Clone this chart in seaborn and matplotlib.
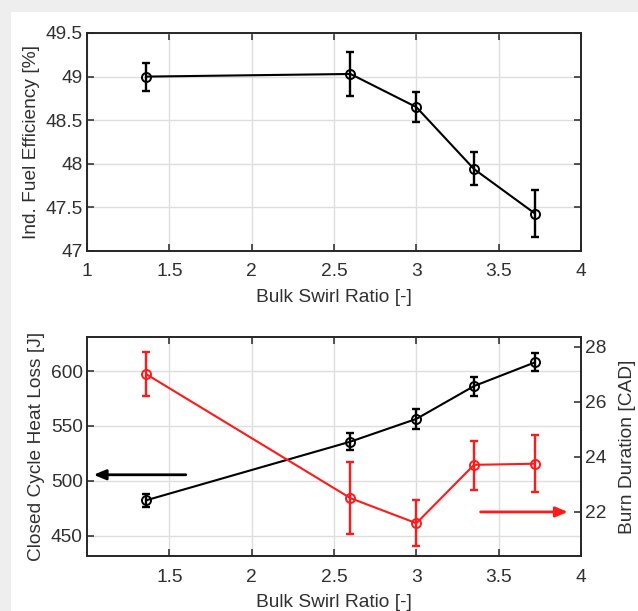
import matplotlib
matplotlib.use("Agg")
import matplotlib.pyplot as plt
from matplotlib.patches import Rectangle
import numpy as np
import seaborn as sns

# data
swirl = [1.36, 2.6, 3.0, 3.35, 3.72]
efficiency = [49.0, 49.03, 48.65, 47.94, 47.43]
efficiency_lo = [48.83, 48.78, 48.48, 47.76, 47.16]
efficiency_hi = [49.16, 49.28, 48.82, 48.13, 47.70]
heat_loss = [482.3, 535.7, 556.4, 586.3, 607.9]
heat_loss_lo = [476.2, 527.7, 547.3, 577.4, 600.3]
heat_loss_hi = [488.1, 543.9, 565.2, 594.8, 616.2]
burn = [27.0, 22.5, 21.59, 23.71, 23.75]
burn_lo = [26.22, 21.19, 20.77, 22.81, 22.71]
burn_hi = [27.8, 23.82, 22.45, 24.58, 24.79]

sns.set_theme(style="white")
plt.rcParams['font.family'] = ['Liberation Sans', 'DejaVu Sans']
fontsize = 13.8
plt.rcParams['font.size'] = fontsize
spine_col = '#262626'
text_col = '#303030'
grid_col = '#dedede'


def style_axes(ax):
    for s in ax.spines.values():
        s.set_color(spine_col)
        s.set_linewidth(1.4)
    ax.tick_params(direction='in', length=5, width=1.1, color=spine_col,
                   labelsize=fontsize, labelcolor=text_col, pad=3)
    ax.tick_params(axis='x', pad=9)
    ax.grid(True, color=grid_col, lw=1.0)
    ax.set_axisbelow(True)


def draw_series(ax, y, lo, hi, color):
    y = np.array(y)
    err = [y - np.array(lo), np.array(hi) - y]
    ax.errorbar(swirl, y, yerr=err, fmt='none', ecolor=color, elinewidth=1.7,
                capsize=3, capthick=1.7, zorder=3)
    sns.lineplot(x=swirl, y=y, ax=ax, color=color, lw=1.5, marker='o',
                 markersize=6.5, markerfacecolor='none', markeredgecolor=color,
                 markeredgewidth=1.4, zorder=4)


fig = plt.figure(figsize=(6.38, 6.11), dpi=100)
fig.patch.set_facecolor('#eeeeee')
fig.patches.append(Rectangle((11 / 638, 0), 1, 1 - 12 / 611, transform=fig.transFigure,
                             facecolor='white', edgecolor='none', zorder=-10))

# top panel
ax1 = fig.add_axes([0.1364, 0.5892, 0.7743, 0.3568])
style_axes(ax1)
draw_series(ax1, efficiency, efficiency_lo, efficiency_hi, 'black')
ax1.set_xlim(1, 4)
ax1.set_ylim(47, 49.5)
ax1.set_xticks([1, 1.5, 2, 2.5, 3, 3.5, 4])
ax1.set_xticklabels(['1', '1.5', '2', '2.5', '3', '3.5', '4'])
ax1.set_yticks([47, 47.5, 48, 48.5, 49, 49.5])
ax1.set_yticklabels(['47', '47.5', '48', '48.5', '49', '49.5'])
ax1.tick_params(top=True, right=True, bottom=True, left=True)
ax1.set_xlabel('Bulk Swirl Ratio [-]', fontsize=fontsize, color=text_col, labelpad=6)
ax1.set_ylabel('Ind. Fuel Efficiency [%]', fontsize=fontsize, color=text_col, labelpad=4)

# bottom panel
ax2 = fig.add_axes([0.1364, 0.0900, 0.7743, 0.3584])
style_axes(ax2)
draw_series(ax2, heat_loss, heat_loss_lo, heat_loss_hi, 'black')
ax2.set_xlim(1, 4)
ax2.set_ylim(431.5, 631)
ax2.set_xticks([1.5, 2, 2.5, 3, 3.5, 4])
ax2.set_xticklabels(['1.5', '2', '2.5', '3', '3.5', '4'])
ax2.set_yticks([450, 500, 550, 600])
ax2.tick_params(top=True, bottom=True, left=True, right=False)
ax2.set_xlabel('Bulk Swirl Ratio [-]', fontsize=fontsize, color=text_col, labelpad=6)
ax2.set_ylabel('Closed Cycle Heat Loss [J]', fontsize=fontsize, color=text_col, labelpad=4)
ax2.annotate('', xy=(1.04, 505.5), xytext=(1.6, 505.5),
             arrowprops=dict(arrowstyle='-|>,head_length=0.6,head_width=0.25',
                             color='black', lw=2, mutation_scale=12,
                             shrinkA=0, shrinkB=0))

ax3 = ax2.twinx()
ax3.grid(False)
for s in ax3.spines.values():
    s.set_visible(False)
ax3.tick_params(direction='in', length=5, width=1.1, color=spine_col,
                labelsize=fontsize, labelcolor=text_col, pad=3)
draw_series(ax3, burn, burn_lo, burn_hi, '#ff1a1a')
ax3.set_ylim(20.4, 28.35)
ax3.set_yticks([22, 24, 26, 28])
ax3.set_ylabel('Burn Duration [CAD]', fontsize=fontsize, color=text_col, labelpad=9)
ax3.annotate('', xy=(3.92, 22.0), xytext=(3.39, 22.0),
             arrowprops=dict(arrowstyle='-|>,head_length=0.6,head_width=0.25',
                             color='#ff1a1a', lw=2, mutation_scale=12,
                             shrinkA=0, shrinkB=0))
ax3.set_xlim(1, 4)

fig.savefig('out.png', dpi=100)
